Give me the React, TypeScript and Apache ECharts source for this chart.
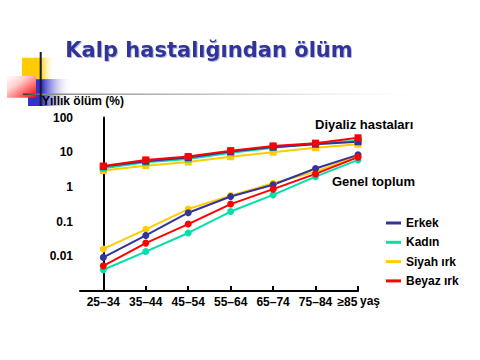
import React, { useEffect, useRef } from "react";
import * as echarts from "echarts";

const ageGroups = ["25–34", "35–44", "45–54", "55–64", "65–74", "75–84", "≥85"];
const yTickLabels: Record<string, string> = { "-2": "0.01", "-1": "0.1", "0": "1", "1": "10", "2": "100" };

// Genel toplum (general population), annual death % (circles)
const genelErkek = [0.0093, 0.04, 0.18, 0.53, 1.15, 3.4, 8.4];
const genelKadin = [0.0041, 0.0137, 0.047, 0.195, 0.59, 1.98, 6.0];
const genelSiyah = [0.0163, 0.06, 0.23, 0.56, 1.28, 2.75, 7.8];
const genelBeyaz = [0.0053, 0.024, 0.085, 0.32, 0.86, 2.37, 7.2];

// Diyaliz hastaları (dialysis patients) (squares)
const diyalizErkek = [3.85, 5.5, 7.0, 10.4, 14.0, 17.0, 20.0];
const diyalizKadin = [3.45, 5.1, 6.4, 9.7, 13.5, 18.0, 21.5];
const diyalizSiyah = [2.95, 4.1, 5.2, 7.4, 10.0, 13.5, 17.0];
const diyalizBeyaz = [4.0, 6.0, 7.5, 11.1, 15.2, 18.2, 26.0];

const seriesNames = ["Erkek", "Kadın", "Siyah ırk", "Beyaz ırk"];
const seriesColors = ["#333399", "#00e0a8", "#ffcc00", "#ff0000"];

const FONT = "Liberation Sans, Arial, sans-serif";

export default function App() {
  const ref = useRef<HTMLDivElement>(null);
  useEffect(() => {
    if (!ref.current) return;
    const chart = echarts.init(ref.current, null, { renderer: "svg" });
    const toPts = (arr: number[]) => arr.map((v, i) => [i, v]);
    const genel = [genelErkek, genelKadin, genelSiyah, genelBeyaz];
    const diyaliz = [diyalizErkek, diyalizKadin, diyalizSiyah, diyalizBeyaz];
    const mk = (arr: number[], idx: number, symbol: string) => ({
      type: "line",
      name: seriesNames[idx],
      data: toPts(arr),
      symbol,
      symbolSize: 7,
      itemStyle: { color: seriesColors[idx] },
      lineStyle: { color: seriesColors[idx], width: 2 },
      emphasis: { disabled: true },
    });
    const series: any[] = [];
    [2, 0, 1, 3].forEach((i) => series.push(mk(genel[i], i, "circle")));
    [2, 1, 0, 3].forEach((i) => series.push(mk(diyaliz[i], i, "rect")));

    const lastIdx = ageGroups.length - 1;

    chart.setOption({
      animation: false,
      backgroundColor: "#ffffff",
      grid: { left: 80, right: 122, top: 117.5, bottom: 69 },
      xAxis: {
        type: "value",
        min: -0.55,
        max: 6,
        axisLine: { lineStyle: { color: "#000", width: 2 } },
        axisTick: { inside: true, length: 5, lineStyle: { color: "#000", width: 2 }, customValues: [0, 1, 2, 3, 4, 5, 6] },
        axisLabel: {
          customValues: [0, 1, 2, 3, 4, 5, 6],
          formatter: (v: number) => {
            const i = Math.round(v);
            const s = ageGroups[i] ?? "";
            return i === lastIdx ? `{last|${s}}` : s;
          },
          rich: {
            last: { fontFamily: FONT, fontWeight: "bold", fontSize: 12, color: "#000", padding: [0, 21, 0, 0] },
          },
          color: "#000",
          fontFamily: FONT,
          fontWeight: "bold",
          fontSize: 12,
          margin: 5,
        },
        splitLine: { show: false },
      },
      yAxis: {
        type: "log",
        logBase: 10,
        min: 0.001,
        max: 100,
        axisLine: { show: true, lineStyle: { color: "#000", width: 2 } },
        axisTick: { show: false },
        axisLabel: {
          formatter: (v: number) => yTickLabels[String(Math.round(Math.log10(v)))] ?? "",
          color: "#000",
          fontFamily: FONT,
          fontWeight: "bold",
          fontSize: 12,
          margin: 7,
        },
        splitLine: { show: false },
      },
      legend: {
        data: seriesNames.map((n) => ({ name: n, icon: "rect" })),
        orient: "vertical",
        left: 381,
        top: 211,
        itemWidth: 15,
        itemHeight: 3,
        itemGap: 5.3,
        selectedMode: false,
        textStyle: { color: "#000", fontFamily: FONT, fontWeight: "bold", fontSize: 12, lineHeight: 14 },
      },
      graphic: [
        {
          type: "rect",
          shape: { x: 28, y: 79, width: 44, height: 27 },
          style: {
            fill: new echarts.graphic.LinearGradient(0, 0, 1, 0, [
              { offset: 0, color: "#3333cc" },
              { offset: 0.32, color: "#3333cc" },
              { offset: 1, color: "rgba(255,255,255,0)" },
            ]),
          },
        },
        {
          type: "rect",
          shape: { x: 22, y: 57.7, width: 33, height: 21.6 },
          style: {
            fill: new echarts.graphic.LinearGradient(0, 0, 1, 0, [
              { offset: 0, color: "#ffcc00" },
              { offset: 0.55, color: "#ffcc00" },
              { offset: 1, color: "rgba(255,255,255,0)" },
            ]),
          },
        },
        {
          type: "rect",
          shape: { x: 7, y: 76, width: 29, height: 21.7 },
          style: {
            fill: new echarts.graphic.LinearGradient(0, 0, 1, 1, [
              { offset: 0, color: "#ffffff" },
              { offset: 0.35, color: "#ffd0d0" },
              { offset: 1, color: "#ff0000" },
            ]),
          },
        },
        {
          type: "rect",
          shape: { x: 23, y: 93.6, width: 420, height: 1.4 },
          style: {
            fill: new echarts.graphic.LinearGradient(0, 0, 1, 0, [
              { offset: 0, color: "#333333" },
              { offset: 0.05, color: "#888888" },
              { offset: 0.6, color: "#dddddd" },
              { offset: 1, color: "rgba(255,255,255,0)" },
            ]),
          },
        },
        {
          type: "line",
          shape: { x1: 40.7, y1: 52, x2: 40.7, y2: 106 },
          style: { stroke: "#1a1a1a", lineWidth: 2 },
        },
        {
          type: "text",
          x: 209,
          y: 50,
          style: {
            text: "Kalp hastalığından ölüm",
            fill: "#333399",
            font: "bold 21px 'DejaVu Sans', sans-serif",
            textAlign: "center",
            textVerticalAlign: "middle",
            textShadowColor: "rgba(120,140,220,0.6)",
            textShadowOffsetX: 1,
            textShadowOffsetY: 1,
            textShadowBlur: 1,
          },
        },
        {
          type: "text",
          x: 42,
          y: 101,
          style: { text: "Yıllık ölüm (%)", fill: "#000", font: `bold 12px ${FONT}`, textVerticalAlign: "middle" },
        },
        {
          type: "text",
          x: 315,
          y: 124,
          style: { text: "Diyaliz hastaları", fill: "#000", font: `bold 13px ${FONT}`, textVerticalAlign: "middle" },
        },
        {
          type: "text",
          x: 332,
          y: 181,
          style: { text: "Genel toplum", fill: "#000", font: `bold 13px ${FONT}`, textVerticalAlign: "middle" },
        },
        {
          type: "text",
          x: 360,
          y: 301,
          style: { text: "yaş", fill: "#000", font: `bold 12px ${FONT}`, textVerticalAlign: "middle" },
        },
      ],
      series,
    });
    return () => chart.dispose();
  }, []);
  return (
    <div
      ref={ref}
      style={{ position: "fixed", left: 0, top: 0, width: 480, height: 360, background: "#fff" }}
    />
  );
}
